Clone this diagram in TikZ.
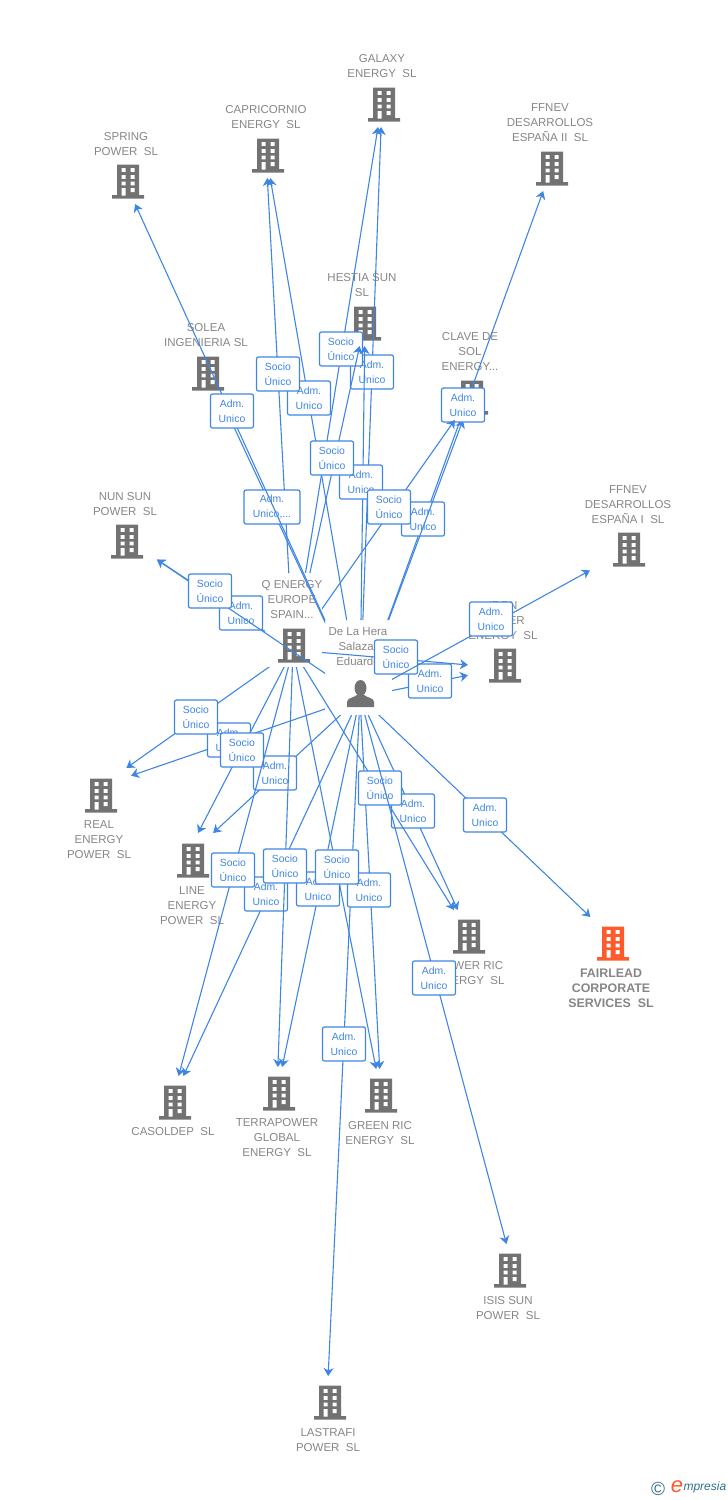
\documentclass[tikz,border=0pt]{standalone}
\usepackage{fontspec}
\setmainfont{Liberation Sans}
\usepackage{xcolor}
\usetikzlibrary{arrows.meta, positioning}
\definecolor{linkblue}{HTML}{3F86E3}
\definecolor{bldggrey}{HTML}{727272}
\definecolor{namegrey}{HTML}{868686}
\definecolor{bldgorange}{HTML}{FF5A2B}
\definecolor{logoteal}{HTML}{2F6F8F}
\tikzset{
  link/.style={linkblue, line width=1.1pt, -{Stealth[length=8pt,width=10pt,inset=2.5pt]}},
  tag/.style={draw=linkblue, line width=1.2pt, fill=white, rounded corners=2pt, text=linkblue, align=center, inner sep=0pt, minimum width=43pt, minimum height=34pt, font=\fontsize{10.4}{15}\selectfont},
  target/.style={inner sep=0pt, outer sep=0pt, minimum width=60pt, minimum height=49pt},
  hub/.style={inner sep=0pt, outer sep=0pt, minimum size=0pt},
  namelabel/.style={text=namegrey, align=center, inner sep=0pt, yshift=-0.8pt, font=\fontsize{11.5}{15}\selectfont},
  mainlabel/.style={namelabel, font=\fontsize{12.4}{15}\selectfont\bfseries}
}
\newcommand{\adm}{Adm.\\Unico}
\newcommand{\socio}{Socio\\Único}
\newcommand{\bldg}[3][bldggrey]{
  \node[target, yshift=1.5pt] (#2) at (#3) {};
  \fill[#1, shift={(#3)}] (-11,-16.5) rectangle (11,14.5) (-16,14) rectangle (16,17.5);
  \foreach \wy in {-13,-6,0.5} {
    \fill[white, shift={(#3)}] (-6.5,\wy) rectangle (-2.5,\wy+3.8) (2.5,\wy) rectangle (6.5,\wy+3.8);
  }
  \fill[white, shift={(#3)}] (-6.5,7) rectangle (-2.5,14.5) (2.5,7) rectangle (6.5,11);
}
\newcommand{\conn}[5][]{
  \begin{scope}[even odd rule]
    \clip (0,0) rectangle (728,1500) (#2a) rectangle (#2b);
    \draw[link] (#2) -- (#3);
  \end{scope}
  \node[tag,#1] (#2#3) at (#4) {#5};
}
\begin{document}
\begin{tikzpicture}[x=1pt,y=-1pt]
\useasboundingbox (0,0) rectangle (728,1500);
\bldg{galaxy}{384,104}
\bldg{capricornio}{268,155}
\bldg{spring}{128,181}
\bldg{ffnevtwo}{552,168}
\bldg{hestia}{365,323}
\bldg{solea}{208,373}
\bldg{clave}{472,397}
\bldg{nun}{127,541}
\bldg{ffnevone}{629,549}
\bldg{iron}{505,665}
\bldg{real}{101,795}
\bldg{line}{193,860}
\bldg{overric}{469,936}
\bldg[bldgorange]{fairlead}{613,943}
\bldg{casoldep}{175,1102}
\bldg{terrapower}{279,1093}
\bldg{greenric}{381,1095}
\bldg{isis}{510,1270}
\bldg{lastrafi}{330,1402}
\bldg{qbldg}{294,645}
\node[target] (galaxy) at (382,102.5) {};
\node[target] (capricornio) at (266,153.5) {};
\node[target] (spring) at (124,179.5) {};
\node[target, minimum width=78pt] (ffnevone) at (629,549) {};
\node[target, minimum width=72pt] (iron) at (504,668) {};
\node[target, minimum height=36pt] (real) at (101,786) {};
\node[target, minimum height=54pt] (line) at (184,860) {};
\node[target] (fairlead) at (616,941.5) {};
\node[target] (casoldep) at (172,1100.5) {};
\node[target] (terrapower) at (277,1091.5) {};
\node[target] (isis) at (513,1268.5) {};
\node[target] (lastrafi) at (327,1400.5) {};
\node[namelabel] (galaxyname) at (382,65.5) {GALAXY\\ENERGY\ \ SL};
\node[namelabel] (capricornioname) at (266,116.5) {CAPRICORNIO\\ENERGY\ \ SL};
\node[namelabel] (springname) at (126,143.5) {SPRING\\POWER\ \ SL};
\node[namelabel] (ffnevtwoname) at (550,122) {FFNEV\\DESARROLLOS\\ESPAÑA II\ \ SL};
\node[namelabel] (hestianame) at (362,284.5) {HESTIA SUN\\SL};
\node[namelabel] (soleaname) at (206,334.5) {SOLEA\\INGENIERIA SL};
\node[namelabel] (clavename) at (470,351) {CLAVE DE\\SOL\\ENERGY...};
\node[namelabel] (nunname) at (125,503.5) {NUN SUN\\POWER\ \ SL};
\node[namelabel] (ffnevonename) at (628,504) {FFNEV\\DESARROLLOS\\ESPAÑA I\ \ SL};
\node[namelabel] (qname) at (292,599) {Q ENERGY\\EUROPE\\SPAIN...};
\node[namelabel] (personname) at (358,646) {De La Hera\\Salazar\\Eduardo};
\node[namelabel] (ironname) at (503,620) {IRON\\POWER\\ENERGY\ \ SL};
\node[namelabel] (realname) at (99,839) {REAL\\ENERGY\\POWER\ \ SL};
\node[namelabel] (linename) at (192,905) {LINE\\ENERGY\\POWER\ \ SL};
\node[namelabel] (overricname) at (470,972.5) {POWER RIC\\ENERGY\ \ SL};
\node[mainlabel] (fairleadname) at (611,987) {FAIRLEAD\\CORPORATE\\SERVICES\ \ SL};
\node[namelabel] (casoldepname) at (173,1131) {CASOLDEP\ \ SL};
\node[namelabel] (terrapowername) at (277,1137) {TERRAPOWER\\GLOBAL\\ENERGY\ \ SL};
\node[namelabel] (greenricname) at (380,1132.5) {GREEN RIC\\ENERGY\ \ SL};
\node[namelabel] (isisname) at (508,1307.5) {ISIS SUN\\POWER\ \ SL};
\node[namelabel] (lastrafiname) at (328,1439.5) {LASTRAFI\\POWER\ \ SL};
\node[hub] (person) at (360,697) {};
\coordinate (persona) at (325,620);
\coordinate (personb) at (392,715);
\node[hub] (qenergy) at (293,650) {};
\coordinate (qenergya) at (265,573);
\coordinate (qenergyb) at (322,667);
\fill[bldggrey] (360.5,688) ellipse (6 and 8);
\fill[bldggrey] (347,707) -- (347,702) .. controls (347,698) and (353,698) .. (357,695) -- (364,695) .. controls (368,698) and (374,698) .. (374,702) -- (374,707) -- cycle;
\conn{person}{galaxy}{372,372}{\adm}
\conn{qenergy}{galaxy}{341,349}{\socio}
\conn{person}{capricornio}{309,398}{\adm}
\conn{qenergy}{capricornio}{278,374}{\socio}
\conn{person}{hestia}{361,482}{\adm}
\conn{qenergy}{hestia}{332,458}{\socio}
\conn[minimum width=56pt]{person}{solea}{272,507}{Adm.\\Unico,...}
\conn{person}{spring}{232,411}{\adm}
\conn{person}{ffnevtwo}{423,519}{\adm}
\conn{person}{clave}{463,405}{\adm}
\conn{qenergy}{clave}{389,507}{\socio}
\conn{qenergy}{nun}{241,613}{\adm}
\conn{person}{nun}{210,591}{\socio}
\conn{person}{iron}{430,681}{\adm}
\conn{qenergy}{iron}{396,657}{\socio}
\conn{person}{ffnevone}{491,619}{\adm}
\conn{person}{real}{229,740}{\adm}
\conn{qenergy}{real}{196,717}{\socio}
\conn{person}{line}{275,773}{\adm}
\conn{qenergy}{line}{242,750}{\socio}
\conn{person}{lastrafi}{344,1044}{\adm}
\conn{person}{casoldep}{266,894}{\adm}
\conn{qenergy}{casoldep}{233,870}{\socio}
\conn{person}{terrapower}{318,889}{\adm}
\conn{qenergy}{terrapower}{285,866}{\socio}
\conn{person}{greenric}{369,890}{\adm}
\conn{qenergy}{greenric}{337,867}{\socio}
\conn{person}{overric}{413,811}{\adm}
\conn{qenergy}{overric}{380,788}{\socio}
\conn{person}{isis}{434,978}{\adm}
\conn{person}{fairlead}{485,815}{\adm}
\node[text=logoteal, inner sep=0pt, font=\fontsize{19}{19}\selectfont] (logomark) at (658,1489) {©};
\node[text=bldgorange, inner sep=0pt, font=\fontsize{22}{22}\selectfont\itshape] (logoe) at (677,1487) {e};
\node[text=logoteal, inner sep=0pt, right=0pt of logoe, font=\fontsize{12}{12}\selectfont\itshape] (logotext) {mpresia};
\end{tikzpicture}
\end{document}
